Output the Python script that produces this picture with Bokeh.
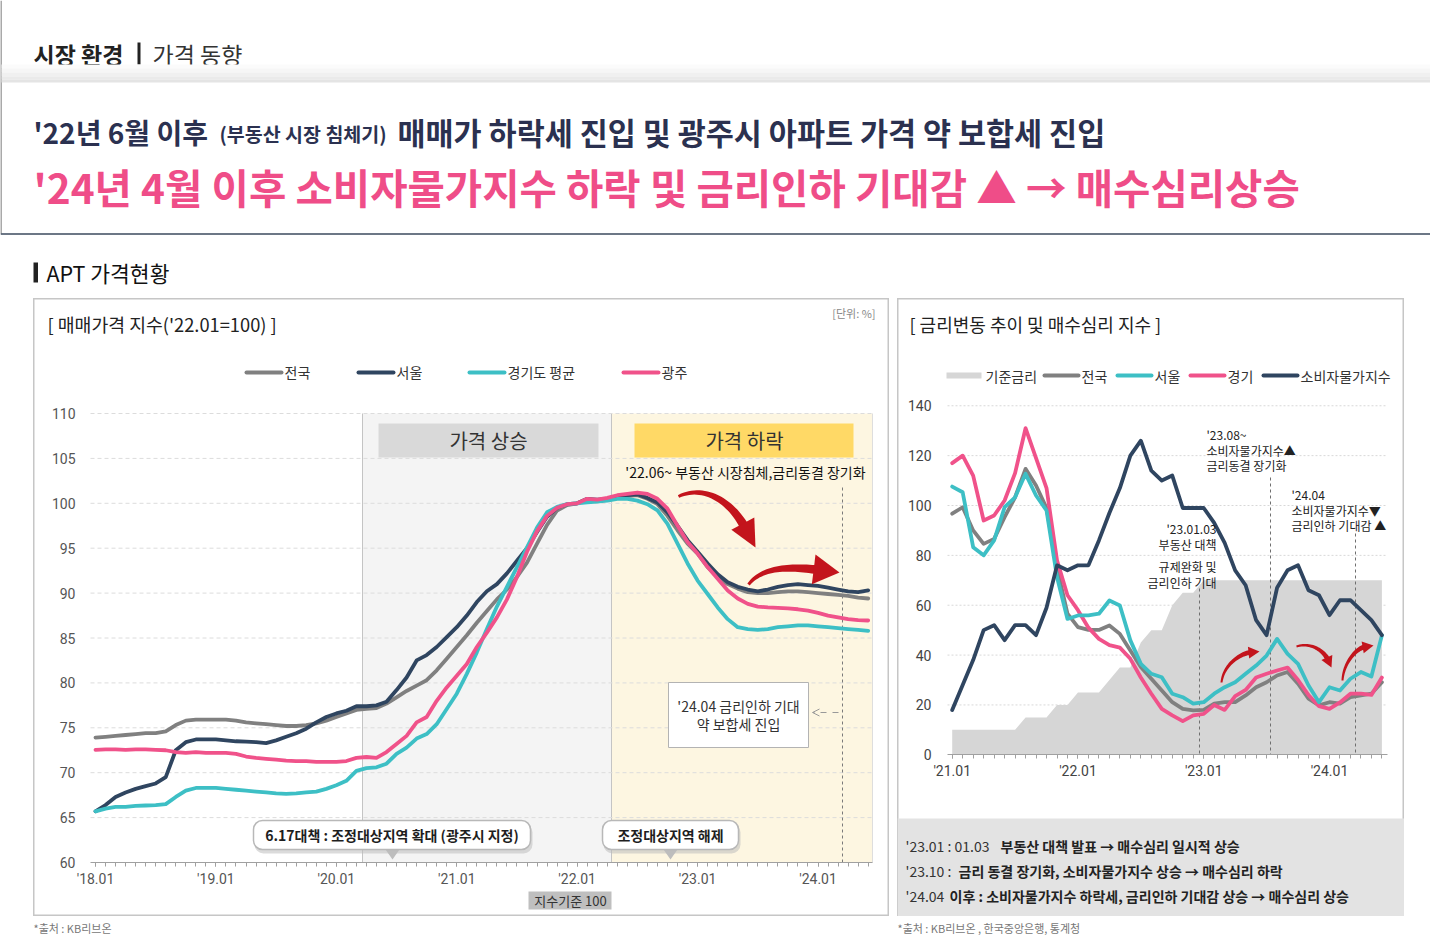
import math
import numpy as np
from bokeh.plotting import figure
from bokeh.models import Range1d, FixedTicker, Spacer, Arrow, OpenHead, Quad
from bokeh.layouts import column, row
from bokeh.embed import file_html
from bokeh.resources import INLINE
from bokeh.core.properties import value

KR = "Noto Sans CJK KR"
NUM = "Roboto"
HAS_RADIUS = "border_radius" in Quad.properties()

# ============================ DATA ============================
# Left chart: APT sales price index ('22.01 = 100), monthly '18.01 ~ '24.06
apt_months = [f"'{yy:02d}.{mm:02d}" for yy in range(18, 25) for mm in range(1, 13)][:78]
apt_year_ticks = ["'18.01", "'19.01", "'20.01", "'21.01", "'22.01", "'23.01", "'24.01"]
apt_y_ticks = [60, 65, 70, 75, 80, 85, 90, 95, 100, 105, 110]

apt_national = [73.9, 74.0, 74.1, 74.2, 74.3, 74.4, 74.4, 74.6, 75.3, 75.8, 75.9, 75.9,
                75.9, 75.9, 75.8, 75.6, 75.5, 75.4, 75.3, 75.2, 75.2, 75.3, 75.5, 75.8,
                76.2, 76.6, 77.0, 77.1, 77.2, 77.7, 78.4, 79.1, 79.7, 80.3, 81.4, 82.7,
                84.0, 85.3, 86.7, 88.0, 89.3, 90.4, 91.8, 93.4, 95.5, 97.6, 99.2, 99.8,
                100.0, 100.4, 100.3, 100.4, 100.7, 100.8, 100.9, 100.5, 99.9, 98.6, 97.0, 95.5,
                94.4, 92.9, 91.8, 91.0, 90.5, 90.1, 90.0, 90.0, 90.1, 90.2, 90.2, 90.1,
                90.0, 89.9, 89.8, 89.7, 89.5, 89.4]
apt_seoul = [65.7, 66.4, 67.3, 67.8, 68.2, 68.5, 68.8, 69.5, 72.5, 73.4, 73.7, 73.7,
             73.7, 73.6, 73.5, 73.45, 73.4, 73.3, 73.6, 74.0, 74.4, 74.9, 75.6, 76.2,
             76.6, 76.9, 77.4, 77.4, 77.5, 77.9, 79.2, 80.6, 82.5, 83.1, 84.0, 85.1,
             86.2, 87.5, 89.0, 90.2, 91.0, 92.2, 93.6, 95.0, 96.8, 98.5, 99.5, 99.9,
             100.0, 100.5, 100.4, 100.5, 100.8, 100.9, 101.0, 100.6, 100.1, 99.0, 97.5, 95.9,
             94.6, 93.3, 92.1, 91.2, 90.7, 90.4, 90.2, 90.4, 90.7, 90.9, 91.0, 90.9,
             90.8, 90.6, 90.4, 90.2, 90.1, 90.3]
apt_gyeonggi = [65.7, 66.0, 66.2, 66.2, 66.3, 66.35, 66.4, 66.5, 67.3, 68.0, 68.3, 68.3,
                68.3, 68.2, 68.1, 68.0, 67.9, 67.8, 67.7, 67.65, 67.7, 67.8, 67.9, 68.2,
                68.6, 69.1, 70.2, 70.5, 70.6, 71.0, 72.1, 72.8, 73.8, 74.3, 75.4, 77.1,
                78.8, 81.0, 83.4, 86.0, 88.5, 90.7, 92.9, 95.1, 97.3, 99.0, 99.6, 99.9,
                100.0, 100.1, 100.2, 100.3, 100.5, 100.5, 100.3, 99.9, 99.2, 97.7, 95.5, 93.3,
                91.4, 89.9, 88.4, 87.1, 86.2, 86.0, 85.9, 86.0, 86.2, 86.3, 86.4, 86.4,
                86.3, 86.2, 86.1, 86.0, 85.9, 85.8]
apt_gwangju = [72.55, 72.6, 72.6, 72.55, 72.6, 72.6, 72.55, 72.5, 72.3, 72.2, 72.3, 72.2,
               72.2, 72.2, 72.1, 71.8, 71.65, 71.55, 71.45, 71.35, 71.3, 71.3, 71.2, 71.2,
               71.2, 71.3, 71.65, 71.75, 71.65, 72.3, 73.2, 74.1, 75.6, 76.2, 78.0, 79.5,
               80.8, 82.1, 84.0, 85.6, 87.3, 89.3, 91.8, 94.6, 96.9, 98.6, 99.5, 99.9,
               100.0, 100.5, 100.4, 100.6, 100.9, 101.05, 101.2, 101.05, 100.5, 99.4, 97.5, 95.7,
               94.4, 92.9, 91.6, 90.3, 89.4, 88.8, 88.5, 88.4, 88.35, 88.3, 88.2, 88.05,
               87.8, 87.5, 87.3, 87.1, 87.0, 86.95]
apt_series_names = ["전국", "서울", "경기도 평균", "광주"]

# Right chart: base rate (scaled) & buyer-sentiment index, monthly '21.01 ~ '24.06
sent_months = [f"'{yy:02d}.{mm:02d}" for yy in range(21, 25) for mm in range(1, 13)][:42]
sent_year_ticks = ["'21.01", "'22.01", "'23.01", "'24.01"]
sent_y_ticks = [0, 20, 40, 60, 80, 100, 120, 140]

base_rate = [10, 10, 10, 10, 10, 10, 10, 15, 15, 15, 20, 20,
             25, 25, 25, 30, 35, 35, 45, 50, 50, 60, 65, 65,
             70, 70, 70, 70, 70, 70, 70, 70, 70, 70, 70, 70,
             70, 70, 70, 70, 70, 70]
sent_national = [96.7, 99.3, 90.0, 84.6, 86.6, 95.3, 103.3, 114.7, 108.0, 99.0, 75.0, 56.6,
                 51.2, 50.1, 50.1, 51.9, 48.5, 41.8, 35.2, 30.5, 25.8, 21.1, 18.4, 17.8,
                 18.0, 20.5, 21.1, 21.1, 23.8, 27.1, 29.1, 31.8, 33.2, 28.5, 22.5, 19.8,
                 21.1, 20.5, 23.1, 23.8, 24.5, 29.1]
sent_seoul = [107.6, 105.3, 83.3, 80.0, 86.0, 99.3, 103.3, 112.7, 104.0, 98.0, 71.3, 54.5,
              55.9, 55.9, 56.6, 61.9, 59.9, 45.9, 36.5, 32.5, 31.1, 24.5, 23.1, 20.5,
              21.1, 24.5, 27.1, 29.1, 32.5, 35.8, 39.8, 46.5, 40.5, 36.5, 27.8, 21.1,
              27.1, 25.8, 30.5, 33.2, 31.4, 47.9]
sent_gyeonggi = [117.0, 120.0, 112.0, 94.0, 96.0, 102.0, 113.0, 131.0, 119.0, 107.0, 78.0, 64.0,
                 58.0, 51.0, 46.5, 44.0, 43.0, 38.5, 31.0, 24.5, 18.4, 15.8, 13.5, 15.8,
                 16.4, 20.0, 18.0, 23.5, 26.0, 31.0, 32.5, 33.8, 35.0, 30.0, 24.0, 19.5,
                 18.4, 21.0, 24.5, 24.5, 24.0, 31.0]
cpi_index = [18, 28, 38, 50, 52, 46, 52, 52, 48, 59, 76, 74,
             76, 76, 86, 97, 107, 120, 126, 114, 110, 112, 99, 99,
             99, 93, 85, 74, 68, 54, 48, 67, 74, 76, 66, 64,
             56, 62, 62, 58, 54, 48]
sent_series_names = ["기준금리", "전국", "서울", "경기", "소비자물가지수"]

C_GRAY = "#808080"
C_NAVY = "#2f4560"
C_CYAN = "#3dbfc5"
C_PINK = "#f0528a"
C_RED = "#c3141c"


# ============================ HELPERS ============================
class Painter:
    def __init__(self, fig, fx, fy):
        self.p, self.fx, self.fy = fig, fx, fy

    def text(self, x, y, s, size, color="#222", align="left", bold=False, font=KR, baseline="middle"):
        self.p.text(x=[self.fx(x)], y=[self.fy(y)], text=[s], text_font=value(font),
                    text_font_size=f"{size}px", text_color=color, text_align=align,
                    text_baseline=baseline, text_font_style="bold" if bold else "normal")

    def box(self, x0, y0, x1, y1, fill, line=None, lw=1, alpha=1.0, radius=0):
        kw = {}
        if radius and HAS_RADIUS:
            kw["border_radius"] = radius
        self.p.quad(left=[self.fx(x0)], right=[self.fx(x1)], top=[self.fy(y0)], bottom=[self.fy(y1)],
                    fill_color=fill, fill_alpha=alpha, line_color=line, line_width=lw, **kw)

    def seg(self, x0, y0, x1, y1, color, lw=1, dash="solid", cap="butt"):
        self.p.segment(x0=[self.fx(x0)], y0=[self.fy(y0)], x1=[self.fx(x1)], y1=[self.fy(y1)],
                       line_color=color, line_width=lw, line_dash=dash, line_cap=cap)

    def poly(self, xs, ys, fill, line=None):
        self.p.patch(x=[self.fx(v) for v in xs], y=[self.fy(v) for v in ys],
                     fill_color=fill, line_color=line)

    def curved_arrow(self, p0, c0, c1, tip, w0, w1, head_len, head_w, color):
        dx, dy = tip[0] - c1[0], tip[1] - c1[1]
        L = math.hypot(dx, dy)
        ux, uy = dx / L, dy / L
        e = (tip[0] - ux * head_len * 0.85, tip[1] - uy * head_len * 0.85)
        t = np.linspace(0, 1, 30)
        bx = (1 - t) ** 3 * p0[0] + 3 * (1 - t) ** 2 * t * c0[0] + 3 * (1 - t) * t ** 2 * c1[0] + t ** 3 * e[0]
        by = (1 - t) ** 3 * p0[1] + 3 * (1 - t) ** 2 * t * c0[1] + 3 * (1 - t) * t ** 2 * c1[1] + t ** 3 * e[1]
        dbx = 3 * (1 - t) ** 2 * (c0[0] - p0[0]) + 6 * (1 - t) * t * (c1[0] - c0[0]) + 3 * t ** 2 * (e[0] - c1[0])
        dby = 3 * (1 - t) ** 2 * (c0[1] - p0[1]) + 6 * (1 - t) * t * (c1[1] - c0[1]) + 3 * t ** 2 * (e[1] - c1[1])
        n = np.hypot(dbx, dby)
        nx, ny = -dby / n, dbx / n
        hw = (w0 + (w1 - w0) * t) / 2
        xs = list(bx + nx * hw) + list((bx - nx * hw)[::-1])
        ys = list(by + ny * hw) + list((by - ny * hw)[::-1])
        self.poly(xs, ys, color)
        bxh, byh = tip[0] - ux * head_len, tip[1] - uy * head_len
        px, py = -uy, ux
        self.poly([tip[0], bxh + px * head_w / 2, bxh - px * head_w / 2],
                  [tip[1], byh + py * head_w / 2, byh - py * head_w / 2], color)


def blank(width, height, xr, yr):
    p = figure(width=width, height=height, x_range=xr, y_range=yr, min_border=0,
               toolbar_location=None, output_backend="svg",
               x_axis_location=None, y_axis_location=None)
    p.grid.visible = False
    p.outline_line_color = None
    p.background_fill_color = "white"
    p.border_fill_color = "white"
    return p


# ============================ HEADER ============================
H = blank(1430, 298, Range1d(0, 1430), Range1d(298, 0))
hp = Painter(H, lambda v: v, lambda v: v)
hp.seg(0.5, 0, 0.5, 233, "#555555", 1)
hp.text(33, 53, "시장 환경", 23, "#222", bold=True)
hp.box(137, 42, 140, 64, "#222")
hp.text(152, 53, "가격 동향", 23, "#333")
for y0, y1, c in [(64, 68, "#fbfbfb"), (68, 72, "#f6f6f6"), (72, 76, "#f0f0f0"),
                  (76, 79, "#eaeaea"), (79, 82, "#e4e4e4")]:
    hp.box(1, y0, 1430, y1, c)
hp.text(33, 131, "'22년 6월 이후", 28, "#2b3150", bold=True)
hp.text(219, 133, "(부동산 시장 침체기)", 19.5, "#2b3150", bold=True)
hp.text(397, 131, "매매가 하락세 진입 및 광주시 아파트 가격 약 보합세 진입", 30.5, "#2b3150", bold=True)
hp.text(33, 186, "'24년 4월 이후 소비자물가지수 하락 및 금리인하 기대감 ▲ → 매수심리상승", 40.6, "#ef4d88", bold=True)
hp.seg(0, 233.5, 1430, 233.5, "#3b4a5e", 1.5)
hp.box(33, 262, 37.5, 282, "#222")
hp.text(46, 272, "APT 가격현황", 21.5, "#111")

# ============================ LEFT CHART ============================
L_X0, L_DX = 95.0, 10.035      # screen px of first month, px per month
L_Y60, L_DY = 862.0, 8.98      # screen px of value 60, px per unit


def lx(px):
    return (px - L_X0) / L_DX


def ly(py):
    return 60 + (L_Y60 - py) / L_DY


left = figure(width=856, height=618, x_range=Range1d(lx(33), lx(889)), y_range=Range1d(ly(916), ly(298)),
              min_border=0, toolbar_location=None, output_backend="svg")
left.grid.visible = False
left.background_fill_color = "white"
left.border_fill_color = "white"
left.outline_line_color = "#c6c6c6"
left.outline_line_width = 2
lp = Painter(left, lx, ly)

apt_x = list(range(len(apt_months)))
apt_tick_pos = [apt_months.index(t) for t in apt_year_ticks]

# shaded phases
lp.box(362, 413, 611, 862, "#f4f4f4")
lp.box(611, 413, 872, 862, "#fdf6e1")
lp.seg(362, 413, 362, 862, "#c4c4c4", 1)
lp.seg(611, 413, 611, 862, "#c4c4c4", 1)
lp.seg(872, 413, 872, 862, "#dedede", 1)

# grid
left.segment(x0=lx(90), x1=lx(872), y0=apt_y_ticks[1:], y1=apt_y_ticks[1:],
             line_color="#dcdcdc", line_width=1, line_dash="4 3")

# phase labels
lp.box(378, 423, 598, 457, "#d9d9d9")
lp.text(488, 440, "가격 상승", 20, "#333", align="center")
lp.box(634, 423, 853, 457, "#ffd966")
lp.text(744, 440, "가격 하락", 20, "#333", align="center")
lp.text(745, 471, "'22.06~ 부동산 시장침체,금리동결 장기화", 14, "#111", align="center")

# dashed marker line '24.04
lp.seg(842, 487, 842, 862, "#7a7a7a", 1, dash="3 3")

# series
for ys, col in [(apt_national, C_GRAY), (apt_seoul, C_NAVY), (apt_gyeonggi, C_CYAN), (apt_gwangju, C_PINK)]:
    left.line(apt_x, ys, line_color=col, line_width=3.8, line_join="round", line_cap="round")

# red trend arrows
lp.curved_arrow((678, 496), (703, 484), (730, 500), (755, 547), 3, 9, 27, 26, C_RED)
lp.curved_arrow((748, 584), (762, 566), (790, 566), (839, 572), 3, 9, 26, 30, C_RED)

# note box
lp.box(668, 682, 808, 747, "white", line="#b3b3b3")
lp.text(738, 705, "'24.04 금리인하 기대", 14, "#333", align="center")
lp.text(738, 723, "약 보합세 진입", 14, "#333", align="center")
left.add_layout(Arrow(end=OpenHead(size=7, line_color="#999999", line_width=1),
                      x_start=lx(838), y_start=ly(712), x_end=lx(812), y_end=ly(712),
                      line_color="#999999", line_width=1, line_dash="dashed"))

# callouts (rounded bubbles with soft shadow and pointer)
for (x0, x1, xp, label) in [(253, 530, 392, "6.17대책 : 조정대상지역 확대 (광주시 지정)"),
                            (602, 738, 670, "조정대상지역 해제")]:
    lp.box(x0 + 1, 823, x1 + 2, 853, "#bdbdbd", alpha=0.55, radius=9)
    lp.poly([xp - 7, xp + 7, xp], [849, 849, 859], "#bdbdbd")
    lp.box(x0, 820, x1, 849, "white", line="#b8b8b8", lw=1.5, radius=9)
    lp.text((x0 + x1) / 2, 834.5, label, 14, "#1e1e1e", align="center", bold=True)

# index base tag
lp.box(528, 891, 611, 909, "#bfbfbf")
lp.text(570, 900, "지수기준 100", 13, "#333", align="center")

# titles & legend
lp.text(47, 323, "[ 매매가격 지수('22.01=100) ]", 18.3, "#222")
lp.text(875, 312, "[단위: %]", 11, "#888", align="right")
for (x0, x1), col, name in zip([(246, 281), (358, 393), (469, 504), (623, 658)],
                               [C_GRAY, C_NAVY, C_CYAN, C_PINK], apt_series_names):
    lp.seg(x0, 372, x1, 372, col, 4, cap="round")
    lp.text(x1 + 3, 371, name, 14, "#333")

# axes (fixed inside frame)
xa = left.xaxis[0]
xa.fixed_location = 60
xa.bounds = (lx(90), lx(872))
xa.ticker = FixedTicker(ticks=apt_tick_pos, minor_ticks=apt_x)
xa.major_label_overrides = {pos: lab for pos, lab in zip(apt_tick_pos, apt_year_ticks)}
xa.axis_line_color = "#a0a0a0"
xa.major_tick_line_color = "#a0a0a0"
xa.minor_tick_line_color = "#a0a0a0"
xa.major_tick_in, xa.major_tick_out = 0, 4
xa.minor_tick_in, xa.minor_tick_out = 0, 4
xa.major_label_standoff = 4
xa.major_label_text_font = NUM
xa.major_label_text_font_size = "14px"
xa.major_label_text_color = "#555555"

ya = left.yaxis[0]
ya.fixed_location = lx(90)
ya.bounds = (60, 110)
ya.ticker = FixedTicker(ticks=apt_y_ticks)
ya.axis_line_color = None
ya.major_tick_line_color = None
ya.minor_tick_line_color = None
ya.major_tick_in, ya.major_tick_out = 0, 0
ya.major_label_standoff = 15
ya.major_label_text_font = NUM
ya.major_label_text_font_size = "14px"
ya.major_label_text_color = "#555555"

# ============================ RIGHT CHART ============================
R_X0, R_DX = 951.7, 10.48
R_Y0, R_DY = 754.3, 2.493


def rx(px):
    return (px - R_X0) / R_DX


def ry(py):
    return (R_Y0 - py) / R_DY


right = figure(width=507, height=618, x_range=Range1d(rx(897), rx(1404)), y_range=Range1d(ry(916), ry(298)),
               min_border=0, toolbar_location=None, output_backend="svg")
right.grid.visible = False
right.background_fill_color = "white"
right.border_fill_color = "white"
right.outline_line_color = "#c6c6c6"
right.outline_line_width = 2
rp = Painter(right, rx, ry)

sent_x = list(range(len(sent_months)))
sent_tick_pos = [sent_months.index(t) for t in sent_year_ticks]

right.segment(x0=rx(947), x1=rx(1387), y0=sent_y_ticks[1:], y1=sent_y_ticks[1:],
              line_color="#d8d8d8", line_width=1, line_dash="2 2")
right.varea(x=sent_x, y1=[0] * len(sent_x), y2=base_rate, fill_color="#d6d6d6")

rp.seg(1199, 588, 1199, 754, "#6f6f6f", 1, dash="3 3")
rp.seg(1270, 477, 1270, 754, "#6f6f6f", 1, dash="3 3")
rp.seg(1355, 533, 1355, 754, "#6f6f6f", 1, dash="3 3")

for ys, col in [(sent_national, C_GRAY), (sent_gyeonggi, C_PINK), (sent_seoul, C_CYAN), (cpi_index, C_NAVY)]:
    right.line(sent_x, ys, line_color=col, line_width=3.8, line_join="round", line_cap="round")

rp.curved_arrow((1221, 682), (1223, 664), (1240, 653), (1259, 651), 2, 5, 11, 12, C_RED)
rp.curved_arrow((1296, 646), (1312, 641), (1324, 652), (1331, 667), 2, 5, 11, 12, C_RED)
rp.curved_arrow((1342, 680), (1343, 662), (1356, 648), (1373, 645), 2, 5, 11, 12, C_RED)

for i, s in enumerate(["'23.08~", "소비자물가지수▲", "금리동결 장기화"]):
    rp.text(1206, 434 + 15.5 * i, s, 12, "#222")
for i, s in enumerate(["'24.04", "소비자물가지수▼", "금리인하 기대감 ▲"]):
    rp.text(1291, 494 + 15.5 * i, s, 12, "#222")
for yy, s in zip([528, 544, 566, 582], ["'23.01.03", "부동산 대책", "규제완화 및", "금리인하 기대"]):
    rp.text(1216, yy, s, 12, "#222", align="right")

# notes box
rp.box(897, 818, 1404, 916, "#e3e3e3")
rp.text(905, 845, "'23.01 : 01.03", 14, "#333")
rp.text(1000, 845, "부동산 대책 발표 → 매수심리 일시적 상승", 14, "#222", bold=True)
rp.text(905, 870, "'23.10 :", 14, "#333")
rp.text(958, 870, "금리 동결 장기화, 소비자물가지수 상승  → 매수심리 하락", 14, "#222", bold=True)
rp.text(905, 895, "'24.04", 14, "#333")
rp.text(949, 895, "이후 : 소비자물가지수 하락세, 금리인하 기대감 상승 → 매수심리 상승", 14, "#222", bold=True)

# title & legend
rp.text(909, 323, "[ 금리변동 추이 및 매수심리 지수 ]", 18, "#222")
rp.box(946, 372, 981, 378, "#d6d6d6")
rp.text(985, 375, sent_series_names[0], 14, "#333")
for (x0, x1), col, name in zip([(1044, 1078), (1117, 1151), (1190, 1224), (1263, 1297)],
                               [C_GRAY, C_CYAN, C_PINK, C_NAVY], sent_series_names[1:]):
    rp.seg(x0, 375, x1, 375, col, 4, cap="round")
    rp.text(x1 + 3, 375, name, 14, "#333")

xb = right.xaxis[0]
xb.fixed_location = 0
xb.bounds = (rx(947), rx(1387))
xb.ticker = FixedTicker(ticks=sent_tick_pos, minor_ticks=sent_x)
xb.major_label_overrides = {pos: lab for pos, lab in zip(sent_tick_pos, sent_year_ticks)}
xb.axis_line_color = "#a0a0a0"
xb.major_tick_line_color = "#a0a0a0"
xb.minor_tick_line_color = "#a0a0a0"
xb.major_tick_in, xb.major_tick_out = 0, 4
xb.minor_tick_in, xb.minor_tick_out = 0, 4
xb.major_label_standoff = 4
xb.major_label_text_font = NUM
xb.major_label_text_font_size = "14px"
xb.major_label_text_color = "#444444"

yb = right.yaxis[0]
yb.fixed_location = rx(947)
yb.bounds = (0, 140)
yb.ticker = FixedTicker(ticks=sent_y_ticks)
yb.axis_line_color = None
yb.major_tick_line_color = None
yb.minor_tick_line_color = None
yb.major_tick_in, yb.major_tick_out = 0, 0
yb.major_label_standoff = 16
yb.major_label_text_font = NUM
yb.major_label_text_font_size = "14px"
yb.major_label_text_color = "#444444"

# ============================ FOOTER ============================
F = blank(1430, 27, Range1d(0, 1430), Range1d(943, 916))
fp = Painter(F, lambda v: v, lambda v: v)
fp.text(33, 927, "*출처 : KB리브온", 11, "#777")
fp.text(897, 927, "*출처 : KB리브온 , 한국중앙은행, 통계청", 11, "#777")

layout = column(H,
                row(Spacer(width=33, height=618), left, Spacer(width=8, height=618), right),
                F)

open("out.html", "w").write(file_html(layout, INLINE))
